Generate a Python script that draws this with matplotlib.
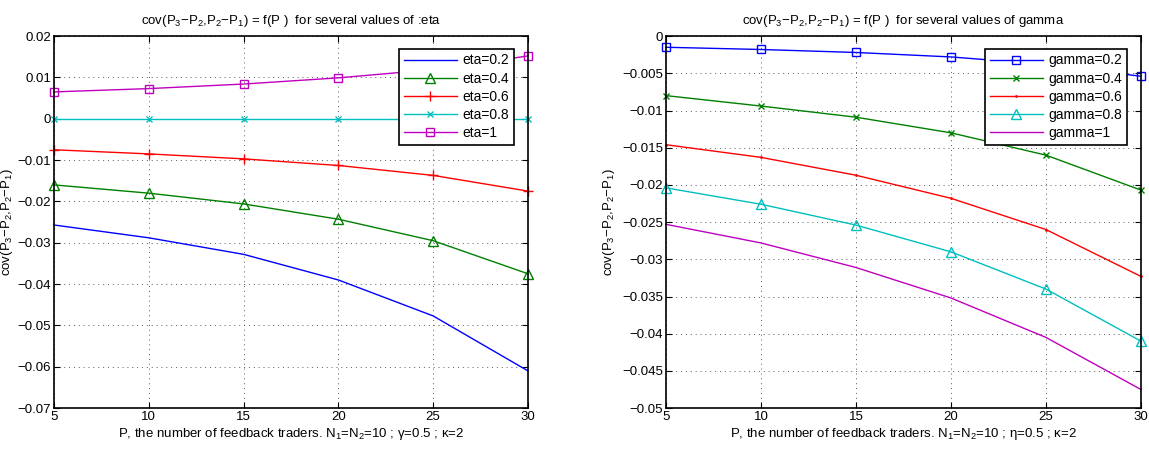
import numpy as np
import matplotlib
matplotlib.use("Agg")
import matplotlib.pyplot as plt

plt.rcParams["font.family"] = ["Liberation Sans", "DejaVu Sans"]
plt.rcParams["mathtext.fontset"] = "custom"
plt.rcParams["mathtext.rm"] = "Liberation Sans"
plt.rcParams["mathtext.it"] = "Liberation Sans"
plt.rcParams["font.size"] = 9.5

# --- data ---
P = [5, 10, 15, 20, 25, 30]

eta_labels = ["eta=0.2", "eta=0.4", "eta=0.6", "eta=0.8", "eta=1"]
eta_02 = [-0.0257, -0.0288, -0.0328, -0.0390, -0.0477, -0.0610]
eta_04 = [-0.0160, -0.0180, -0.0206, -0.0243, -0.0295, -0.0375]
eta_06 = [-0.0075, -0.0085, -0.0097, -0.0113, -0.0137, -0.0175]
eta_08 = [0.0, 0.0, 0.0, 0.0, 0.0, 0.0]
eta_10 = [0.0065, 0.0073, 0.0084, 0.0099, 0.0119, 0.0152]

gamma_labels = ["gamma=0.2", "gamma=0.4", "gamma=0.6", "gamma=0.8", "gamma=1"]
gam_02 = [-0.0015, -0.0018, -0.0022, -0.0028, -0.0038, -0.0054]
gam_04 = [-0.0080, -0.0094, -0.0109, -0.0130, -0.0160, -0.0207]
gam_06 = [-0.0146, -0.0163, -0.0187, -0.0218, -0.0260, -0.0323]
gam_08 = [-0.0204, -0.0226, -0.0254, -0.0290, -0.0340, -0.0410]
gam_10 = [-0.0253, -0.0278, -0.0311, -0.0352, -0.0405, -0.0475]

colors = [(0, 0, 1), (0, 0.5, 0), (1, 0, 0), (0, 0.75, 0.75), (0.75, 0, 0.75)]


def fmt(v):
    if abs(v) < 1e-12:
        return "0"
    return ("%g" % v).replace("-", "\u2212")


def style_axes(ax, ylim, yticks):
    ax.set_xlim(5, 30)
    ax.set_ylim(*ylim)
    ax.set_xticks(P)
    ax.set_yticks(yticks)
    ax.set_yticklabels([fmt(v) for v in yticks])
    ax.grid(True, linestyle=(0, (1, 4)), color="0.35", linewidth=0.7)
    ax.tick_params(direction="in", top=True, right=True, length=4, pad=2)
    for s in ax.spines.values():
        s.set_linewidth(1.2)


def add_legend(ax):
    leg = ax.legend(loc="upper right", bbox_to_anchor=(0.985, 0.985), fancybox=False,
                    edgecolor="black", framealpha=1, borderpad=0.35, labelspacing=0.3,
                    handlelength=3.8, handletextpad=0.4, fontsize=10)
    leg.get_frame().set_linewidth(1.2)


title = "cov(P$_3$\u2212P$_2$,P$_2$\u2212P$_1$) = f(P )  for several values of "
ylab = "cov(P$_3$\u2212P$_2$,P$_2$\u2212P$_1$)"

fig = plt.figure(figsize=(11.49, 4.57), dpi=100)
ax1 = fig.add_axes([0.047, 0.107, 0.4125, 0.814])
ax2 = fig.add_axes([0.5796, 0.107, 0.4134, 0.814])

# left panel
left_series = [eta_02, eta_04, eta_06, eta_08, eta_10]
left_markers = ["", "^", "+", "x", "s"]
left_sizes = [6, 7, 7, 5, 6]
for vals, lab, c, m, ms in zip(left_series, eta_labels, colors, left_markers, left_sizes):
    ax1.plot(P, vals, color=c, marker=m, markersize=ms, markerfacecolor="none",
             linewidth=1, label=lab, clip_on=False)
style_axes(ax1, (-0.07, 0.02), np.round(np.arange(-0.07, 0.0201, 0.01), 2))
ax1.set_title(title + ":eta", fontsize=9.5, pad=9)
ax1.set_xlabel("P, the number of feedback traders. N$_1$=N$_2$=10 ; \u03b3=0.5 ; \u03ba=2",
               labelpad=2)
ax1.set_ylabel(ylab)
ax1.yaxis.set_label_coords(-0.082, 0.5)
add_legend(ax1)

# right panel
right_series = [gam_02, gam_04, gam_06, gam_08, gam_10]
right_markers = ["s", "x", ".", "^", ""]
right_sizes = [6, 5, 2, 7, 6]
for vals, lab, c, m, ms in zip(right_series, gamma_labels, colors, right_markers, right_sizes):
    ax2.plot(P, vals, color=c, marker=m, markersize=ms, markerfacecolor="none",
             linewidth=1, label=lab, clip_on=False)
style_axes(ax2, (-0.05, 0), np.round(np.arange(-0.05, 0.0001, 0.005), 3))
ax2.set_title(title + "gamma", fontsize=9.5, pad=9)
ax2.set_xlabel("P, the number of feedback traders. N$_1$=N$_2$=10 ; \u03b7=0.5 ; \u03ba=2",
               labelpad=2)
ax2.set_ylabel(ylab, labelpad=4)
add_legend(ax2)

fig.savefig("out.png", dpi=100)
